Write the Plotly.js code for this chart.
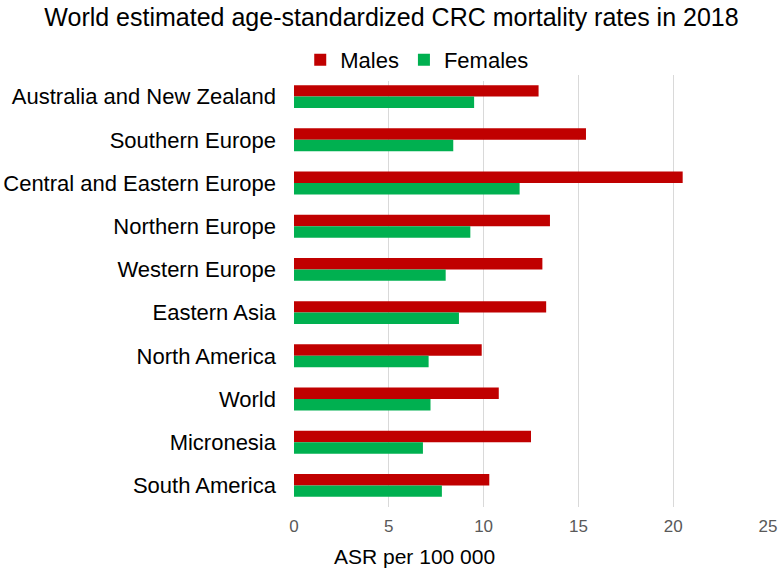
<!DOCTYPE html>
<html>
<head>
<meta charset="utf-8">
<script src="https://cdn.plot.ly/plotly-3.0.1.min.js"></script>
<style>
  body { margin: 0; background: #fff; }
  #chart { width: 783px; height: 576px; }
</style>
</head>
<body>
<div id="chart"></div>
<script>
// Regions, top to bottom as in the figure
var regions = [
  "Australia and New Zealand",
  "Southern Europe",
  "Central and Eastern Europe",
  "Northern Europe",
  "Western Europe",
  "Eastern Asia",
  "North America",
  "World",
  "Micronesia",
  "South America"
];

// ASR per 100 000
var males   = [12.9, 15.4, 20.5, 13.5, 13.1, 13.3, 9.9, 10.8, 12.5, 10.3];
var females = [9.5, 8.4, 11.9, 9.3, 8.0, 8.7, 7.1, 7.2, 6.8, 7.8];

var xTicks = [0, 5, 10, 15, 20, 25];

var traceMales = {
  y: regions,
  x: males,
  name: "Males",
  type: "bar",
  orientation: "h",
  marker: { color: "#c00000" }
};

var traceFemales = {
  y: regions,
  x: females,
  name: "Females",
  type: "bar",
  orientation: "h",
  marker: { color: "#00b050" }
};

var data = [traceMales, traceFemales];

var layout = {
  width: 783,
  height: 576,
  margin: { l: 294, r: 15, t: 75, b: 69 },
  paper_bgcolor: "#ffffff",
  plot_bgcolor: "#ffffff",
  font: { family: "Liberation Sans, Arial, sans-serif", color: "#000000" },
  title: {
    text: "World estimated age-standardized CRC mortality rates in 2018",
    font: { family: "Liberation Sans Narrow, Arial Narrow, Liberation Sans, sans-serif", size: 25, color: "#000000" },
    x: 0.5,
    xanchor: "center",
    y: 0.97,
    yanchor: "middle"
  },
  barmode: "group",
  bargap: 0.47,
  bargroupgap: 0,
  showlegend: true,
  legend: {
    orientation: "h",
    x: 0.26,
    xanchor: "center",
    y: 1.035,
    yanchor: "middle",
    font: { family: "Liberation Sans Narrow, Arial Narrow, Liberation Sans, sans-serif", size: 22, color: "#000000" },
    itemwidth: 30,
    traceorder: "normal"
  },
  xaxis: {
    range: [0, 25],
    tickvals: xTicks,
    ticktext: xTicks.map(String),
    showgrid: true,
    gridcolor: "#d9d9d9",
    gridwidth: 1,
    zeroline: false,
    showline: false,
    ticks: "",
    ticklabelstandoff: 7,
    tickfont: { size: 17, color: "#595959" },
    fixedrange: true
  },
  yaxis: {
    type: "category",
    autorange: "reversed",
    showgrid: false,
    zeroline: false,
    showline: false,
    ticks: "",
    ticklabelstandoff: 17,
    tickfont: { size: 22, color: "#000000" },
    fixedrange: true
  },
  annotations: [{
    text: "ASR per 100 000",
    xref: "paper",
    yref: "paper",
    x: 0.255,
    y: -0.115,
    xanchor: "center",
    yanchor: "middle",
    showarrow: false,
    font: { size: 21, color: "#000000" }
  }]
};

Plotly.newPlot("chart", data, layout, { displayModeBar: false, staticPlot: true });
</script>
</body>
</html>
